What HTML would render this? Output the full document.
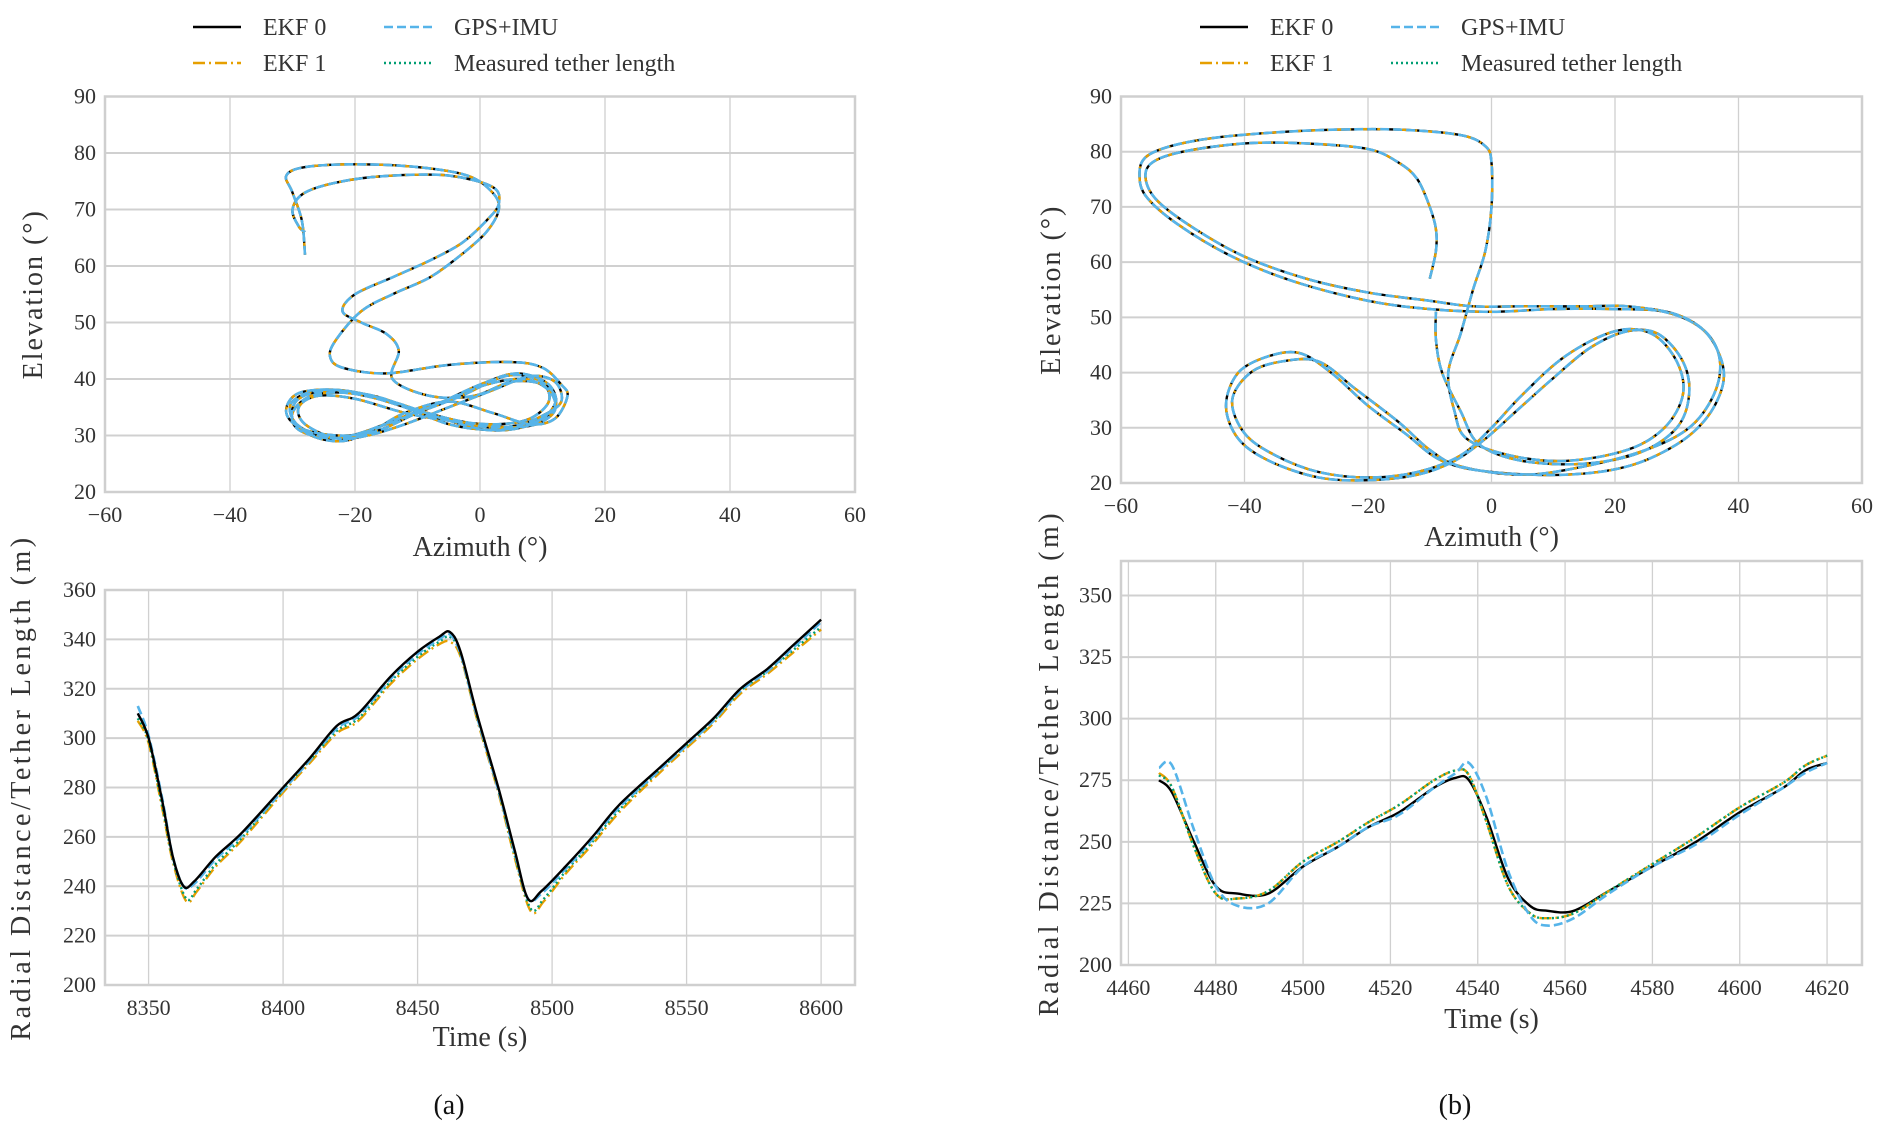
<!DOCTYPE html>
<html><head><meta charset="utf-8"><style>
body{margin:0;background:#fff}
svg{display:block;font-family:"Liberation Serif",serif}
</style></head><body>
<svg id="fig" width="1892" height="1140" viewBox="0 0 1892 1140"></svg>
<script>
// ---------- data ----------
const azTicks=[-60,-40,-20,0,20,40,60];
const elTicks=[20,30,40,50,60,70,80,90];
const trajA_az=[-28,-28.5,-30,-31,-28,-20,-10,-2,2,3,1,-3,-8,-14,-19,-23,-24,-22,-15,-5,5,10,13,14,12,8,2,-5,-12,-17,-22,-27,-30,-30,-26,-20,-12,-5,2,8,12,11,6,0,-8,-15,-21,-28,-31,-29,-22,-14,-6,1,7,11,12,9,4,-3,-10,-16,-22,-27,-30,-29,-24,-17,-10,-3,4,9,12,11,7,1,-6,-13,-19,-24,-29,-30,-27,-21,-13,-6,1,6,10,13,12,8,2,-5,-12,-18,-23,-28,-29,-26,-20,-12,-4,3,8,11,10,5,-1,-8,-14,-13,-15,-19,-22,-20,-14,-8,-3,1,3,2,-5,-14,-22,-28,-30,-29,-28];
const trajA_el=[62,68,73,76,77.5,78,77.5,76,73,70,66,62,58,55,52,47,44,42,41,42.5,43,42,39,37,33,32,34,36,34,31,29,30,33,36,38,37.5,35,32,31,32,35,39,41,39,35,32,30,31,34,37.5,38,36,33,31,31.5,34,37,40,40.5,37,34,31,29.5,30.5,33,36.5,38,37,34.5,32.5,31.5,32,34.5,38,40,39,36,33,30.5,29.5,31,34,37,37.5,35.5,33,31.5,31.8,33.5,36,39.5,40.5,38,35,32,30,29.5,32,35,37,36.5,34,32.5,32,33,36,39,39.5,37,37,40,45,48,50,52,55,58,61,64,68,71,74,76,76,75,73,70,67,66];
const trajB_az=[-10,-9,-9,-10,-12,-15,-20,-30,-40,-50,-55,-56,-54,-48,-40,-30,-20,-10,-3,5,15,22,30,35,37,36,32,25,15,5,-5,-10,-15,-22,-28,-34,-39,-42,-40,-35,-28,-20,-12,-5,0,5,12,20,26,30,31,28,22,12,3,-4,-6,-7,-5,-3,-1,0,0,-1,-5,-15,-25,-35,-45,-52,-56,-57,-56,-51,-42,-32,-20,-10,0,10,20,28,34,37,37.5,35,30,22,12,0,-8,-14,-20,-26,-31,-36,-41,-43,-41,-36,-28,-20,-12,-6,-1,4,10,16,22,27,31,32,30,24,15,5,-2,-5,-8,-9,-9];
const trajB_el=[57,62,66,70,75,78,80.5,81.5,81.5,80,78,75,71,66,61,57,54.5,53,52,52,52,52,50.5,47,42,36,30,26,23,21.5,23,26,31,37,42,42,40,35,29,25,22,21,22,25,30,36,43,47.5,47,42,36,30,26,24,25,28,33,40,47,55,62,70,78,81,83,84,84,83.5,82.5,81,79,76,72,67,61,56.5,53,51.5,51,51.5,51.5,51,48,43,38,32,27,23,21.5,22,24,29,34,40,43.5,43,40,34,28,24,21,20.5,21.5,24,28,33,39,44.5,47.5,47,42,36,30,25.5,23.5,24,27,33,40,46,51];
// bottom-left time series
const tA_ekf0=[8346,8350,8355,8359,8363,8367,8375,8385,8400,8410,8420,8428,8440,8450,8458,8462,8466,8472,8480,8486,8491,8496,8505,8515,8525,8540,8550,8560,8570,8580,8590,8600];
const vA_ekf0=[310,300,275,252,240,242,252,262,280,292,305,310,325,335,341,343,335,310,280,255,235,238,248,260,273,288,298,308,320,328,338,348];
const tA_ekf1=[8346,8350,8355,8359,8364,8368,8375,8385,8400,8410,8420,8428,8440,8450,8458,8462,8466,8472,8480,8486,8492,8497,8505,8515,8525,8540,8550,8560,8570,8580,8590,8600];
const vA_ekf1=[307,298,272,250,234,238,248,259,278,290,302,307,322,332,338,339,333,308,278,252,230,234,245,257,270,286,296,306,318,326,335,344];
const tA_gps=[8346,8350,8355,8359,8363,8367,8375,8385,8400,8410,8420,8428,8440,8450,8458,8462,8466,8472,8480,8486,8491,8496,8505,8515,8525,8540,8550,8560,8570,8580,8590,8600];
const vA_gps=[313,301,276,252,240,241,251,261,279,291,304,309,324,334,340,342,334,309,279,254,235,237,247,259,272,287,297,307,319,327,337,347];
const tA_meas=[8346,8350,8355,8359,8364,8368,8375,8385,8400,8410,8420,8428,8440,8450,8458,8462,8466,8472,8480,8486,8492,8497,8505,8515,8525,8540,8550,8560,8570,8580,8590,8600];
const vA_meas=[308,299,273,251,235,239,249,260,279,291,303,308,323,333,339,341,334,309,279,253,231,235,246,258,271,287,297,307,319,327,336,345];
// bottom-right time series
const tB=[4467,4470,4475,4480,4485,4492,4500,4508,4515,4522,4530,4535,4538,4542,4547,4552,4556,4562,4570,4580,4590,4600,4610,4615,4620];
const vB_ekf0=[275,270,250,232,229,229,240,248,256,262,272,276,275,260,235,224,222,222,230,240,250,262,272,279,282];
const vB_ekf1=[278,272,248,229,227,230,242,250,258,265,275,279,277,258,232,221,219,221,230,241,252,264,274,281,285];
const vB_gps=[280,281,255,232,224,225,240,248,256,261,272,278,282,268,238,220,216,219,229,240,249,261,272,278,282];
const vB_meas=[277,272,248,229,227,230,242,250,258,265,275,279,277,258,232,221,219,221,230,241,252,264,274,281,285];
const tTicksA=[8350,8400,8450,8500,8550,8600];
const vTicksA=[200,220,240,260,280,300,320,340,360];
const tTicksB=[4460,4480,4500,4520,4540,4560,4580,4600,4620];
const vTicksB=[200,225,250,275,300,325,350];

// ---------- drawing ----------
const NS='http://www.w3.org/2000/svg';
const svg=document.getElementById('fig');
function mk(tag,attrs,parent){const e=document.createElementNS(NS,tag);for(const k in attrs)e.setAttribute(k,attrs[k]);(parent||svg).appendChild(e);return e;}
function lin(d0,d1,r0,r1){return v=>r0+(v-d0)/(d1-d0)*(r1-r0);}
function smooth(xs,ys){let d='M'+xs[0].toFixed(1)+','+ys[0].toFixed(1);
 for(let i=0;i<xs.length-1;i++){const x0=xs[Math.max(i-1,0)],y0=ys[Math.max(i-1,0)],x1=xs[i],y1=ys[i],x2=xs[i+1],y2=ys[i+1],x3=xs[Math.min(i+2,xs.length-1)],y3=ys[Math.min(i+2,xs.length-1)];
 d+=' C'+(x1+(x2-x0)/6).toFixed(1)+','+(y1+(y2-y0)/6).toFixed(1)+' '+(x2-(x3-x1)/6).toFixed(1)+','+(y2-(y3-y1)/6).toFixed(1)+' '+x2.toFixed(1)+','+y2.toFixed(1);}
 return d;}
const STY={
 ekf0:{stroke:'#000','stroke-width':2.4},
 ekf1:{stroke:'#E69F00','stroke-width':2.4,'stroke-dasharray':'12,4,2,4'},
 gps:{stroke:'#56B4E9','stroke-width':2.6,'stroke-dasharray':'9,4'},
 meas:{stroke:'#009E73','stroke-width':2.4,'stroke-dasharray':'2,3'}
};
function axes(name,L,R,T,B,xd,yd,xt,yt,xlab,ylab,xlabY,ylabX,ls){
 const g=mk('g',{});
 
 
 const sx=lin(xd[0],xd[1],L,R),sy=lin(yd[0],yd[1],B,T);
 xt.forEach(v=>{const x=sx(v);const l=mk('line',{x1:x,x2:x,y1:T,y2:B,stroke:'#d0d0d0','stroke-width':1.3},g);
  
  const t=mk('text',{x:x,y:B+30,'text-anchor':'middle','font-size':22,fill:'#333'},g);t.textContent=(v<0?'\u2212'+(-v):v);
  });
 yt.forEach(v=>{const y=sy(v);const l=mk('line',{x1:L,x2:R,y1:y,y2:y,stroke:'#d0d0d0','stroke-width':2},g);
  
  const t=mk('text',{x:L-9,y:y+7,'text-anchor':'end','font-size':22,fill:'#333'},g);t.textContent=v;
  });
 const fr=mk('rect',{x:L,y:T,width:R-L,height:B-T,fill:'none',stroke:'#cfcfcf','stroke-width':2.5},g);
 
 const xl=mk('text',{x:(L+R)/2,y:xlabY,'text-anchor':'middle','font-size':28,fill:'#333'},g);xl.textContent=xlab;
 
 const cy=(T+B)/2;
 const yl=mk('text',{x:ylabX,y:cy,'text-anchor':'middle','font-size':28,fill:'#333','letter-spacing':ls,transform:'rotate(-90 '+ylabX+' '+cy+')'},g);yl.textContent=ylab;
 
 return {sx,sy,g};
}
function series(ax,xs,ys,key,name){
 const p=mk('path',Object.assign({d:smooth(xs.map(ax.sx),ys.map(ax.sy)),fill:'none','stroke-linejoin':'round'},STY[key]),ax.g);
 
 
}
function legend(x0,name){
 const g=mk('g',{});
 
 
 const items=[['ekf0','EKF 0',0,0],['ekf1','EKF 1',0,1],['gps','GPS+IMU',1,0],['meas','Measured tether length',1,1]];
 items.forEach(([k,lab,c,r])=>{const x=x0+c*191,y=27+r*36;
  const ln=mk('line',Object.assign({x1:x,x2:x+48,y1:y,y2:y},STY[k]),g);
  
  const t=mk('text',{x:x+70,y:y+8,'font-size':24,fill:'#333'},g);t.textContent=lab;
  });
}
// top-left
legend(193,'legend-a');
let a1=axes('trajectory-plot-a',105,855,96.5,492,[-60,60],[20,90],azTicks,elTicks,'Azimuth (\u00B0)','Elevation (\u00B0)',556,42,2);
series(a1,trajA_az,trajA_el,'ekf0','ekf0-trajectory-a');
series(a1,trajA_az,trajA_el,'ekf1','ekf1-trajectory-a');
series(a1,trajA_az,trajA_el,'gps','gps-trajectory-a');
// top-right
legend(1200,'legend-b');
let b1=axes('trajectory-plot-b',1121,1862,96.5,483,[-60,60],[20,90],azTicks,elTicks,'Azimuth (\u00B0)','Elevation (\u00B0)',546,1060,2);
series(b1,trajB_az,trajB_el,'ekf0','ekf0-trajectory-b');
series(b1,trajB_az,trajB_el,'ekf1','ekf1-trajectory-b');
series(b1,trajB_az,trajB_el,'gps','gps-trajectory-b');
// bottom-left
let a2=axes('tether-plot-a',105,855,590,985,[8333.8,8612.6],[200,360],tTicksA,vTicksA,'Time (s)','Radial Distance/Tether Length (m)',1046,30,3.5);
series(a2,tA_ekf1,vA_ekf1,'ekf1','ekf1-tether-a');
series(a2,tA_meas,vA_meas,'meas','measured-tether-a');
series(a2,tA_gps,vA_gps,'gps','gps-tether-a');
series(a2,tA_ekf0,vA_ekf0,'ekf0','ekf0-tether-a');
// bottom-right
let b2=axes('tether-plot-b',1121,1862,561,965,[4458.3,4628],[200,364],tTicksB,vTicksB,'Time (s)','Radial Distance/Tether Length (m)',1028,1058,3.5);
series(b2,tB,vB_ekf0,'ekf0','ekf0-tether-b');
series(b2,tB,vB_ekf1,'ekf1','ekf1-tether-b');
series(b2,tB,vB_meas,'meas','measured-tether-b');
series(b2,tB,vB_gps,'gps','gps-tether-b');
// captions
const ca=mk('text',{x:449,y:1114,'text-anchor':'middle','font-size':28,fill:'#111'});ca.textContent='(a)';

const cb=mk('text',{x:1455,y:1114,'text-anchor':'middle','font-size':28,fill:'#111'});cb.textContent='(b)';

</script>
</body></html>
